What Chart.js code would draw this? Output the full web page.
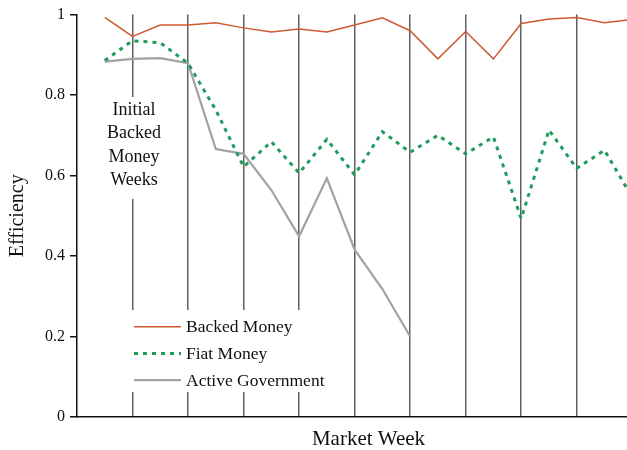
<!DOCTYPE html>
<html>
<head>
<meta charset="utf-8">
<script src="https://cdn.jsdelivr.net/npm/chart.js@4/dist/chart.umd.min.js"></script>
<style>
html,body{margin:0;padding:0;overflow:hidden;background:#fff;width:627px;height:450px;}
canvas{display:block;}
</style>
</head>
<body>
<canvas id="c" width="680" height="450"></canvas>
<script>
const weeks = [1,2,3,4,5,6,7,8,9,10,11,12,13,14,15,16,17,18,19,20];
const backedMoney = [0.993,0.946,0.974,0.974,0.980,0.967,0.957,0.964,0.957,0.974,0.992,0.960,0.890,0.958,0.890,0.978,0.989,0.993,0.980,0.988];
const fiatMoney = [0.886,0.935,0.930,0.879,0.763,0.622,0.684,0.606,0.690,0.602,0.709,0.658,0.700,0.654,0.696,0.493,0.713,0.618,0.663,0.546];
const activeGovernment = [0.883,0.890,0.892,0.879,0.666,0.654,0.564,0.449,0.593,0.416,0.318,0.200];
const dividerWeeks = [2,4,6,8,10,12,14,16,18];
const yTicks = [0,0.2,0.4,0.6,0.8,1];
const yTickLabels = ['0','0.2','0.4','0.6','0.8','1'];
const annotationLines = ['Initial','Backed','Money','Weeks'];
const seriesLabels = ['Backed Money','Fiat Money','Active Government'];

const pts = (vals) => vals.map((v,i)=>({x:weeks[i], y:v}));
const SERIF = '"Liberation Serif", "Times New Roman", serif';

const overlay = {
  id:'overlay',
  afterDatasetsDraw(chart){
    const ctx = chart.ctx;
    const xs = chart.scales.x;
    ctx.save();
    // annotation box over first divider
    const ax = xs.getPixelForValue(2);
    ctx.fillStyle = '#fff';
    ctx.fillRect(ax-30, 97, 62, 102);
    ctx.fillStyle = '#111';
    ctx.font = '18px ' + SERIF;
    ctx.textAlign = 'center';
    ctx.textBaseline = 'alphabetic';
    annotationLines.forEach((t,i)=>{ ctx.fillText(t, ax+1.5, 115 + i*23.3); });
    // legend
    ctx.fillStyle = '#fff';
    ctx.fillRect(124, 310, 212, 82);
    ctx.font = '17.5px ' + SERIF;
    ctx.textAlign = 'left';
    ctx.textBaseline = 'middle';
    chart.data.datasets.forEach((ds,i)=>{
      const y = 326.7 + i*26.7;
      ctx.save();
      ctx.strokeStyle = ds.borderColor;
      ctx.lineWidth = ds.borderWidth;
      ctx.setLineDash(ds.borderDash || []);
      ctx.beginPath(); ctx.moveTo(134, y); ctx.lineTo(181, y); ctx.stroke();
      ctx.restore();
      ctx.fillStyle = '#111';
      ctx.fillText(ds.label, 186, y+1);
    });
    ctx.restore();
  }
};

new Chart(document.getElementById('c'), {
  type:'line',
  data:{
    datasets:[
      {label:seriesLabels[0], data:pts(backedMoney), borderColor:'#cc5a33', borderWidth:1.5, pointRadius:0, tension:0, fill:false},
      {label:seriesLabels[1], data:pts(fiatMoney), borderColor:'#1f9c5c', borderWidth:3, borderDash:[4,5], pointRadius:0, tension:0, fill:false},
      {label:seriesLabels[2], data:pts(activeGovernment), borderColor:'#a2a2a2', borderWidth:2.2, pointRadius:0, tension:0, fill:false}
    ]
  },
  options:{
    responsive:false, animation:false, devicePixelRatio:1,
    layout:{padding:{top:12, right:20, left:0, bottom:0}},
    plugins:{legend:{display:false}, tooltip:{enabled:false}},
    scales:{
      x:{
        type:'linear', min:0, max:21,
        afterBuildTicks(s){ s.ticks = dividerWeeks.map(v=>({value:v})); },
        afterFit(s){ s.height = 33; },
        ticks:{display:false},
        grid:{drawOnChartArea:true, drawTicks:false, color:'#606060', lineWidth:1.5},
        border:{display:true, color:'#111', width:1.5},
        title:{display:true, text:'Market Week', color:'#111', font:{family:SERIF, size:21, lineHeight:1}, padding:{top:0,bottom:0}}
      },
      y:{
        min:0, max:1,
        afterBuildTicks(s){ s.ticks = yTicks.map(v=>({value:v})); },
        afterFit(s){ s.width = 77; },
        ticks:{color:'#111', font:{family:SERIF, size:16}, padding:5,
          callback:(v)=>{ const i = yTicks.findIndex(t=>Math.abs(t-v)<1e-9); return i>=0 ? yTickLabels[i] : ''; }},
        grid:{drawOnChartArea:false, drawTicks:true, tickLength:7, color:'#111', lineWidth:1.5},
        border:{display:true, color:'#111', width:1.5},
        title:{display:true, text:'Efficiency', color:'#111', font:{family:SERIF, size:20, lineHeight:1}, padding:{top:8,bottom:0}}
      }
    }
  },
  plugins:[overlay]
});
</script>
</body>
</html>
